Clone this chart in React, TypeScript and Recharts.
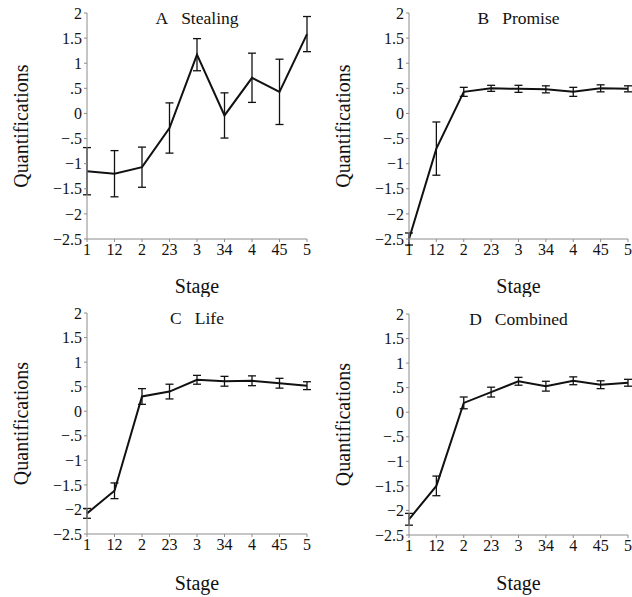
import React from 'react';
import { LineChart, Line, XAxis, YAxis, ErrorBar, Label } from 'recharts';

const stages = ['1', '12', '2', '23', '3', '34', '4', '45', '5'];
const yTicks = [-2.5, -2, -1.5, -1, -0.5, 0, 0.5, 1, 1.5, 2];

const stealing = [-1.15, -1.2, -1.07, -0.29, 1.17, -0.04, 0.71, 0.43, 1.58];
const stealingErr = [0.47, 0.46, 0.4, 0.5, 0.32, 0.45, 0.49, 0.65, 0.35];

const promise = [-2.5, -0.7, 0.43, 0.5, 0.49, 0.48, 0.43, 0.5, 0.49];
const promiseErr = [0.12, 0.53, 0.09, 0.06, 0.07, 0.07, 0.09, 0.07, 0.06];

const life = [-2.08, -1.62, 0.3, 0.4, 0.64, 0.61, 0.62, 0.57, 0.52];
const lifeErr = [0.1, 0.16, 0.16, 0.15, 0.09, 0.1, 0.1, 0.1, 0.08];

const combined = [-2.18, -1.5, 0.19, 0.41, 0.63, 0.53, 0.64, 0.56, 0.6];
const combinedErr = [0.12, 0.2, 0.12, 0.1, 0.08, 0.1, 0.08, 0.08, 0.07];

const FONT = "'Liberation Serif', serif";
const AXIS = '#8c8c8c';

const fmt = (v: number) => {
  const a = Math.abs(v);
  let s = String(a);
  if (a > 0 && a < 1) s = s.replace('0.', '.');
  return v < 0 ? '\u2212' + s : s;
};

type PanelProps = {
  letter: string;
  name: string;
  values: number[];
  errs: number[];
  left: number;
  top: number;
  width: number;
  height: number;
  plotTop: number;
  plotBottom: number;
  plotLeft: number;
  plotRight: number;
  baseline: number;
};

function Panel(p: PanelProps) {
  const data = stages.map((s, i) => ({ stage: s, v: p.values[i], e: p.errs[i] }));
  const yAxisWidth = p.plotLeft - p.left;
  const xAxisHeight = p.top + p.height - p.plotBottom;
  const cx = (p.plotLeft + p.plotRight) / 2 - p.left;
  return (
    <div style={{ position: 'absolute', left: p.left, top: p.top, width: p.width, height: p.height, fontFamily: FONT }}>
      <LineChart
        width={p.width}
        height={p.height}
        data={data}
        margin={{ top: p.plotTop - p.top, right: p.left + p.width - p.plotRight, left: 0, bottom: 0 }}
      >
        <XAxis
          dataKey="stage"
          scale="point"
          padding={{ left: 0, right: 0 }}
          height={xAxisHeight}
          interval={0}
          stroke={AXIS}
          tickSize={3}
          tickMargin={2}
          tick={{ fill: '#111', fontSize: 16, fontFamily: FONT }}
        >
          <Label
            value="Stage"
            position="insideBottom"
            offset={p.top + p.height - p.baseline}
            style={{ fontSize: 20, fill: '#111', fontFamily: FONT }}
          />
        </XAxis>
        <YAxis
          type="number"
          domain={[-2.5, 2]}
          ticks={yTicks}
          allowDataOverflow
          width={yAxisWidth}
          interval={0}
          stroke={AXIS}
          tickSize={3}
          tickMargin={2}
          tickFormatter={fmt}
          tick={{ fill: '#111', fontSize: 16, fontFamily: FONT }}
        >
          <Label
            value="Quantifications"
            angle={-90}
            position="insideLeft"
            offset={21}
            style={{ fontSize: 20, fill: '#111', fontFamily: FONT, textAnchor: 'middle' }}
          />
        </YAxis>
        <Line
          dataKey="v"
          stroke="#111"
          strokeWidth={2}
          dot={false}
          isAnimationActive={false}
        >
          <ErrorBar dataKey="e" width={4} stroke="#111" strokeWidth={1.3} direction="y" isAnimationActive={false} />
        </Line>
      </LineChart>
      <svg
        width={p.width}
        height={p.height}
        style={{ position: 'absolute', left: 0, top: 0, pointerEvents: 'none' }}
      >
        <text
          x={cx}
          y={p.plotTop - p.top + 11}
          textAnchor="middle"
          style={{ fontFamily: FONT, fontSize: 17.5, fill: '#111' }}
        >
          <tspan>{p.letter}</tspan>
          <tspan dx={13}>{p.name}</tspan>
        </text>
      </svg>
    </div>
  );
}

export default function App() {
  return (
    <div style={{ position: 'absolute', left: 0, top: 0, width: 632, height: 597, background: '#fff' }}>
      <Panel letter="A" name="Stealing" values={stealing} errs={stealingErr}
        left={0} top={0} width={316} height={297} plotTop={13} plotBottom={239} plotLeft={87} plotRight={307} baseline={293} />
      <Panel letter="B" name="Promise" values={promise} errs={promiseErr}
        left={322} top={0} width={310} height={297} plotTop={13} plotBottom={239} plotLeft={409} plotRight={628} baseline={293} />
      <Panel letter="C" name="Life" values={life} errs={lifeErr}
        left={0} top={297} width={316} height={300} plotTop={313} plotBottom={534} plotLeft={87} plotRight={307} baseline={590} />
      <Panel letter="D" name="Combined" values={combined} errs={combinedErr}
        left={322} top={297} width={310} height={300} plotTop={314} plotBottom={535} plotLeft={409} plotRight={628} baseline={590} />
    </div>
  );
}
